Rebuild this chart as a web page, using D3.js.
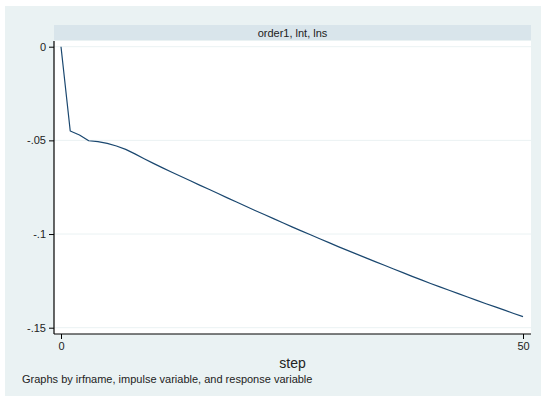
<!DOCTYPE html>
<html>
<head>
<meta charset="utf-8">
<script src="https://cdn.jsdelivr.net/npm/d3@7"></script>
<style>
  html, body { margin: 0; padding: 0; background: #ffffff; }
  svg { display: block; font-family: "Liberation Sans", Arial, sans-serif; }
</style>
</head>
<body>
<svg id="chart" width="541" height="397"></svg>
<script>
// Impulse response: order1, impulse lnt, response lns
const steps = d3.range(0, 51);
const irf = [
  0, -0.0450, -0.0471, -0.0502, -0.0507, -0.0516, -0.0530, -0.0548, -0.0572, -0.0598,
  -0.0623, -0.0647, -0.0670, -0.0693, -0.0716, -0.0739, -0.0761, -0.0784, -0.0807, -0.0829,
  -0.0852, -0.0874, -0.0896, -0.0918, -0.0940, -0.0962, -0.0983, -0.1004, -0.1025, -0.1046,
  -0.1067, -0.1087, -0.1107, -0.1127, -0.1147, -0.1167, -0.1187, -0.1206, -0.1226, -0.1245,
  -0.1264, -0.1282, -0.1300, -0.1318, -0.1336, -0.1354, -0.1372, -0.1389, -0.1406, -0.1424,
  -0.1441
];
const yTicks = [0, -0.05, -0.1, -0.15];
const yTickLabels = ["0", "-.05", "-.1", "-.15"];
const xTicks = [0, 50];
const panelTitle = "order1, lnt, lns";
const xTitle = "step";
const note = "Graphs by irfname, impulse variable, and response variable";

const svg = d3.select("#chart");

// graph region
svg.append("rect").attr("x", 5).attr("y", 6).attr("width", 536).attr("height", 390)
  .attr("fill", "#eaf2f3");

const plot = { left: 54, right: 531, top: 41, bottom: 334 };

// panel strip
svg.append("rect").attr("x", plot.left).attr("y", 25)
  .attr("width", plot.right - plot.left).attr("height", 15)
  .attr("fill", "#d9e5eb");
svg.append("text").attr("x", (plot.left + plot.right) / 2).attr("y", 33)
  .attr("text-anchor", "middle").attr("dominant-baseline", "central")
  .attr("font-size", 11).attr("fill", "#222").text(panelTitle);

// plot region
svg.append("rect").attr("x", plot.left).attr("y", plot.top)
  .attr("width", plot.right - plot.left).attr("height", plot.bottom - plot.top)
  .attr("fill", "#ffffff");

const x = d3.scaleLinear().domain([0, 50]).range([61, 523]);
const y = d3.scaleLinear().domain([-0.15, 0]).range([327.7, 46.7]);

// gridlines
svg.append("g").selectAll("line").data(yTicks).join("line")
  .attr("x1", plot.left).attr("x2", plot.right)
  .attr("y1", d => y(d)).attr("y2", d => y(d))
  .attr("stroke", "#eaf2f3").attr("stroke-width", 1);

// response line
svg.append("path")
  .datum(steps.map((s, i) => [s, irf[i]]))
  .attr("fill", "none").attr("stroke", "#1a476f").attr("stroke-width", 1.2)
  .attr("stroke-linejoin", "round")
  .attr("d", d3.line().x(d => x(d[0])).y(d => y(d[1])));

// y axis
const yAxis = d3.axisLeft(y).tickValues(yTicks)
  .tickFormat((d, i) => yTickLabels[i]).tickSize(5).tickPadding(3);
const gy = svg.append("g").attr("transform", `translate(${plot.left},0)`).call(yAxis);
gy.select(".domain").remove();
gy.append("line").attr("x1", 0).attr("x2", 0).attr("y1", plot.top).attr("y2", plot.bottom)
  .attr("stroke", "#000").attr("stroke-width", 1.2);
gy.selectAll(".tick line").attr("stroke", "#000");
gy.selectAll(".tick text").attr("font-size", 11).attr("fill", "#222")
  .style("font-family", "Liberation Sans, Arial, sans-serif");

// x axis
const xAxis = d3.axisBottom(x).tickValues(xTicks).tickSize(5).tickPadding(3)
  .tickFormat(d3.format("d"));
const gx = svg.append("g").attr("transform", `translate(0,${plot.bottom})`).call(xAxis);
gx.select(".domain").remove();
gx.append("line").attr("x1", plot.left).attr("x2", plot.right).attr("y1", 0).attr("y2", 0)
  .attr("stroke", "#000").attr("stroke-width", 1.2);
gx.selectAll(".tick line").attr("stroke", "#000");
gx.selectAll(".tick text").attr("font-size", 11).attr("fill", "#222")
  .style("font-family", "Liberation Sans, Arial, sans-serif");

// axis title
svg.append("text").attr("x", (plot.left + plot.right) / 2).attr("y", 368)
  .attr("text-anchor", "middle").attr("font-size", 14).attr("fill", "#222").text(xTitle);

// note
svg.append("text").attr("x", 22).attr("y", 383)
  .attr("font-size", 11).attr("fill", "#222").text(note);
</script>
</body>
</html>
